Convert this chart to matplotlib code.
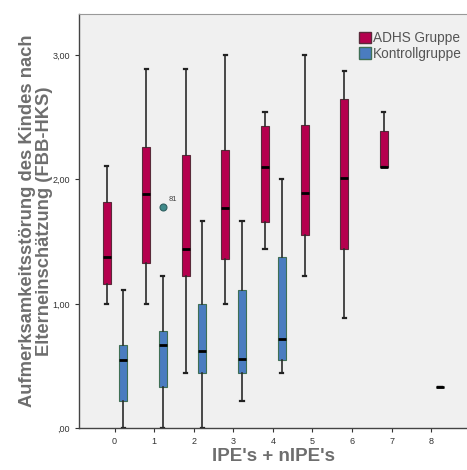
import matplotlib
matplotlib.use("Agg")
import matplotlib.pyplot as plt
from matplotlib.patches import Patch
import numpy as np

plt.rcParams['font.family'] = ['Liberation Sans', 'DejaVu Sans']

# ADHS Gruppe, groups 0..7
adhs_x = [0, 1, 2, 3, 4, 5, 6, 7]
adhs_whislo = [1.00, 1.00, 0.44, 1.00, 1.44, 1.22, 0.89, 2.10]
adhs_q1 = [1.16, 1.33, 1.22, 1.36, 1.66, 1.55, 1.44, 2.10]
adhs_med = [1.38, 1.88, 1.44, 1.77, 2.10, 1.89, 2.01, 2.10]
adhs_q3 = [1.82, 2.26, 2.20, 2.24, 2.43, 2.44, 2.65, 2.39]
adhs_whishi = [2.11, 2.89, 2.89, 3.00, 2.54, 3.00, 2.87, 2.54]

# Kontrollgruppe, groups 0..4 and 8
kon_x = [0, 1, 2, 3, 4, 8]
kon_whislo = [0.00, 0.00, 0.00, 0.22, 0.44, 0.33]
kon_q1 = [0.22, 0.33, 0.44, 0.44, 0.55, 0.33]
kon_med = [0.55, 0.67, 0.62, 0.56, 0.72, 0.33]
kon_q3 = [0.67, 0.78, 1.00, 1.11, 1.38, 0.33]
kon_whishi = [1.11, 1.22, 1.67, 1.67, 2.00, 0.33]

# outlier (case 81) in Kontrollgruppe at group 1
out_group = 1
out_value = 1.78
out_label = "81"

x_ticks = [0, 1, 2, 3, 4, 5, 6, 7, 8]
y_ticks = [0, 1, 2, 3]
y_ticklabels = [",00", "1,00", "2,00", "3,00"]

adhs_color = '#b5004e'
kon_color = '#4a7cc0'


def make_stats(lo, q1, med, q3, hi):
    return [dict(whislo=a, q1=b, med=c, q3=d, whishi=e, fliers=[])
            for a, b, c, d, e in zip(lo, q1, med, q3, hi)]


fig = plt.figure(figsize=(4.67, 4.70), dpi=100)
ax = fig.add_axes([0.169, 0.089, 0.835, 0.881])
ax.set_facecolor('#f0f0f0')

adhs_stats = make_stats(adhs_whislo, adhs_q1, adhs_med, adhs_q3, adhs_whishi)
kon_stats = make_stats(kon_whislo, kon_q1, kon_med, kon_q3, kon_whishi)
kon_stats[kon_x.index(out_group)]['fliers'] = [out_value]

common = dict(widths=0.2, capwidths=0.08, patch_artist=True,
              whiskerprops=dict(color='#2a2a2a', linewidth=1.2),
              capprops=dict(color='#222222', linewidth=1.6),
              medianprops=dict(color='black', linewidth=2.0),
              manage_ticks=False)

ax.bxp(adhs_stats, positions=np.array(adhs_x) - 0.2,
       boxprops=dict(facecolor=adhs_color, edgecolor='#5a2a3a', linewidth=0.8),
       **common)
ax.bxp(kon_stats, positions=np.array(kon_x) + 0.22,
       boxprops=dict(facecolor=kon_color, edgecolor='#3f6f55', linewidth=0.8),
       flierprops=dict(marker='o', markersize=5, markerfacecolor='#3f8a8a',
                       markeredgecolor='#2f5f60', markeredgewidth=0.8),
       **common)

ax.annotate(out_label, (out_group + 0.22, out_value), xytext=(4, 4),
            textcoords='offset points', fontsize=5.5, color='#444444')

ax.set_xlim(-0.9, 8.95)
ax.set_ylim(0, 3.33)
ax.set_xticks(x_ticks)
ax.set_xticklabels([str(t) for t in x_ticks])
ax.set_yticks(y_ticks)
ax.set_yticklabels(y_ticklabels)
ax.tick_params(labelsize=6.5, colors='#333333', length=3, width=0.8)

for side in ['left', 'bottom']:
    ax.spines[side].set_color('#444444')
    ax.spines[side].set_linewidth(1.0)
ax.spines['top'].set_color('#999999')
ax.spines['right'].set_visible(False)

ax.set_ylabel("Aufmerksamkeitsstörung des Kindes nach\nElterneinschätzung (FBB-HKS)",
              fontsize=13.2, fontweight='bold', color='#6e6e6e', linespacing=1.0)
ax.yaxis.set_label_coords(-0.067, 0.5)
ax.set_xlabel("IPE's + nIPE's", fontsize=13.5, fontweight='bold',
              color='#6e6e6e', labelpad=1.5)

handles = [Patch(facecolor=adhs_color, edgecolor='#5a2a3a', label='ADHS Gruppe'),
           Patch(facecolor=kon_color, edgecolor='#3f6f55', label='Kontrollgruppe')]
leg = fig.legend(handles=handles, loc='upper left', bbox_to_anchor=(0.768, 0.934),
                 frameon=False, fontsize=9.8, handlelength=0.9, handleheight=0.9,
                 handletextpad=0.12, labelspacing=0.12, borderpad=0, borderaxespad=0)
for t in leg.get_texts():
    t.set_color('#555555')

fig.savefig('out.png', dpi=100, facecolor='white')
